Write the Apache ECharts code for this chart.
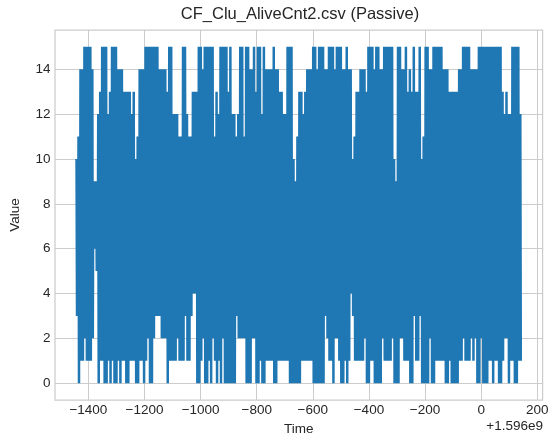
<!DOCTYPE html>
<html>
<head>
<meta charset="utf-8">
<script src="https://cdn.jsdelivr.net/npm/echarts@6/dist/echarts.min.js"></script>
<style>
  html, body { margin: 0; padding: 0; background: #ffffff; }
  #chart { width: 558px; height: 444px; }
</style>
</head>
<body>
<div id="chart"></div>
<script>
// Time axis: seconds relative to 1.596e9; one bin every ~7 s starting at -1444
const binStart = -1444;
const binSeconds = 7.03;

// Highest value reached within each bin
const binHigh = [
  10, 11, 14, 14, 15, 15, 15, 15, 14, 9,
  9, 12, 13, 15, 15, 15, 12, 13, 15, 15,
  15, 14, 14, 14, 13, 13, 13, 13, 12, 13,
  10, 11, 14, 14, 14, 15, 15, 15, 15, 15,
  15, 15, 14, 14, 14, 14, 13, 15, 15, 12,
  12, 12, 11, 11, 15, 15, 12, 11, 11, 13,
  13, 13, 15, 15, 14, 15, 15, 15, 15, 15,
  11, 13, 12, 15, 15, 15, 15, 13, 15, 12,
  12, 11, 12, 15, 15, 11, 15, 15, 14, 14,
  15, 13, 15, 15, 12, 15, 14, 14, 14, 14,
  15, 14, 14, 13, 13, 12, 12, 15, 15, 15,
  10, 9, 11, 13, 13, 12, 13, 14, 14, 14,
  15, 15, 14, 15, 15, 15, 14, 14, 15, 15,
  15, 14, 15, 15, 15, 14, 14, 15, 14, 14,
  10, 11, 13, 13, 14, 14, 14, 13, 15, 15,
  15, 14, 15, 15, 14, 14, 15, 15, 15, 15,
  15, 10, 9, 15, 15, 14, 14, 15, 13, 14,
  13, 15, 13, 13, 15, 10, 11, 15, 15, 14,
  14, 15, 15, 15, 15, 15, 14, 14, 14, 13,
  13, 13, 13, 13, 14, 14, 15, 15, 15, 15,
  14, 14, 14, 14, 15, 15, 15, 15, 15, 15,
  15, 15, 15, 15, 15, 15, 13, 12, 13, 12,
  12, 15, 15, 15, 15, 12
];

// Lowest value reached within each bin
const binLow = [
  3, 0, 1, 1, 2, 1, 1, 1, 2, 6,
  5, 0, 1, 1, 0, 0, 1, 0, 1, 0,
  0, 1, 0, 1, 1, 0, 0, 1, 1, 1,
  0, 0, 1, 1, 0, 1, 2, 0, 0, 2,
  3, 3, 3, 2, 2, 2, 0, 1, 1, 1,
  1, 2, 1, 1, 1, 3, 1, 1, 3, 4,
  4, 0, 0, 1, 2, 0, 0, 1, 0, 2,
  1, 0, 1, 0, 2, 0, 0, 0, 0, 0,
  0, 3, 2, 2, 2, 2, 0, 0, 0, 2,
  2, 0, 0, 1, 0, 0, 1, 1, 1, 1,
  0, 0, 1, 1, 1, 1, 1, 1, 0, 0,
  0, 0, 0, 0, 1, 1, 1, 1, 1, 1,
  0, 0, 0, 0, 0, 0, 3, 2, 1, 1,
  0, 2, 2, 1, 0, 0, 1, 0, 1, 4,
  3, 1, 1, 1, 1, 1, 2, 0, 0, 1,
  1, 0, 0, 0, 0, 2, 1, 1, 1, 1,
  2, 0, 0, 0, 2, 2, 1, 1, 1, 0,
  0, 3, 1, 1, 3, 0, 0, 0, 0, 2,
  0, 0, 1, 1, 1, 1, 1, 0, 0, 1,
  0, 0, 0, 0, 1, 1, 2, 1, 1, 1,
  2, 1, 2, 0, 0, 2, 0, 0, 0, 1,
  1, 0, 1, 1, 0, 0, 1, 2, 2, 0,
  1, 1, 0, 0, 1, 1
];

const xTicks = [-1400, -1200, -1000, -800, -600, -400, -200, 0, 200];
const yTicks = [0, 2, 4, 6, 8, 10, 12, 14];

const titleText = 'CF_Clu_AliveCnt2.csv (Passive)';
const xName = 'Time';
const yName = 'Value';
const offsetText = '+1.596e9';

// each bin holds two up-and-down swings between its low and high values
const points = [];
for (let i = 0; i < binHigh.length; i++) {
  const t = binStart + i * binSeconds;
  const q = binSeconds / 4;
  points.push([t, binHigh[i]]);
  points.push([t + q, binLow[i]]);
  points.push([t + 2 * q, binHigh[i]]);
  points.push([t + 3 * q, binLow[i]]);
}

const fontFam = '"Liberation Sans", Arial, sans-serif';
const txt = '#262626';
const gridCol = '#cccccc';
const fmt = v => String(v).replace('-', '\u2212');

const chart = echarts.init(document.getElementById('chart'), null, { renderer: 'canvas' });
chart.setOption({
  animation: false,
  backgroundColor: '#ffffff',
  title: {
    text: titleText,
    left: 295, top: 1, textAlign: 'center',
    textStyle: { fontFamily: fontFam, fontSize: 16.5, fontWeight: 'normal', color: txt }
  },
  grid: {
    left: 48, right: 15.4, top: 30, bottom: 44,
    containLabel: false, show: true,
    borderColor: gridCol, borderWidth: 1.25, backgroundColor: 'transparent'
  },
  xAxis: {
    type: 'value', min: -1519, max: 219,
    name: xName, nameLocation: 'middle', nameGap: 20,
    nameTextStyle: { fontFamily: fontFam, fontSize: 13.5, color: txt },
    axisLine: { show: false },
    axisTick: { show: false, customValues: xTicks },
    axisLabel: { customValues: xTicks, formatter: fmt, margin: 3.5,
      fontFamily: fontFam, fontSize: 13.5, color: txt },
    splitLine: { show: true, lineStyle: { color: gridCol, width: 1 } }
  },
  yAxis: {
    type: 'value', min: -0.75, max: 15.75,
    name: yName, nameLocation: 'middle', nameGap: 33, nameRotate: 90,
    nameTextStyle: { fontFamily: fontFam, fontSize: 13.5, color: txt },
    axisLine: { show: false },
    axisTick: { show: false, customValues: yTicks },
    axisLabel: { customValues: yTicks, formatter: fmt, margin: 4.5,
      fontFamily: fontFam, fontSize: 13.5, color: txt },
    splitLine: { show: true, lineStyle: { color: gridCol, width: 1 } }
  },
  graphic: [{
    type: 'text', right: 15, top: 419,
    style: { text: offsetText, font: '13.5px ' + fontFam, fill: txt }
  }],
  series: [{
    type: 'line',
    data: points,
    showSymbol: false,
    symbol: 'none',
    sampling: 'none',
    lineStyle: { color: '#1f77b4', width: 1.5 },
    itemStyle: { color: '#1f77b4' },
    z: 3
  }]
});
</script>
</body>
</html>
